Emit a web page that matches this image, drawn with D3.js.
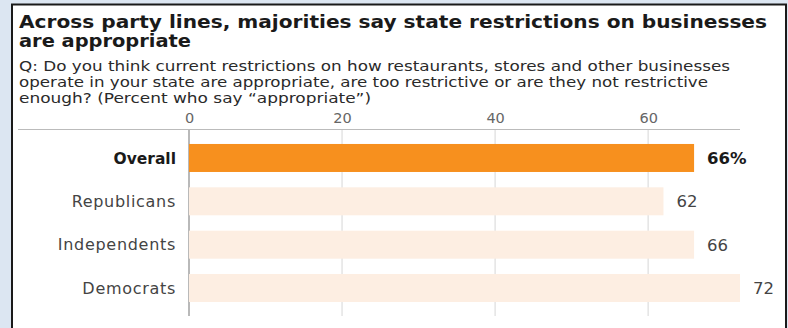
<!DOCTYPE html>
<html>
<head>
<meta charset="utf-8">
<script src="https://cdn.jsdelivr.net/npm/d3@7"></script>
<style>
  html, body { margin: 0; padding: 0; background: #dce6f2; }
  svg { display: block; }
  text { font-family: "DejaVu Sans", sans-serif; }
</style>
</head>
<body>
<svg id="chart" width="788" height="328"></svg>
<script>
const titleLines = ["Across party lines, majorities say state restrictions on businesses", "are appropriate"];
const titleWidths = [748, 172];
const subtitleLines = [
  "Q: Do you think current restrictions on how restaurants, stores and other businesses",
  "operate in your state are appropriate, are too restrictive or are they not restrictive",
  "enough? (Percent who say \u201cappropriate\u201d)"
];
const subtitleWidths = [711, 689, 352];
const categories = ["Overall", "Republicans", "Independents", "Democrats"];
const values = [66, 62, 66, 72];
const valueLabels = ["66%", "62", "66", "72"];
const tickValues = [0, 20, 40, 60];

const svg = d3.select("#chart");

// panel
svg.append("rect").attr("x", 12).attr("y", 4.5).attr("width", 774).attr("height", 340)
  .attr("fill", "#fff").attr("stroke", "#1a1a1a").attr("stroke-width", 2);

// title
svg.append("g").selectAll("text").data(titleLines).join("text")
  .attr("x", 19).attr("y", (d, i) => 27.5 + i * 19)
  .attr("font-size", 18).attr("font-weight", "bold").attr("fill", "#1a1a1a")
  .attr("textLength", (d, i) => titleWidths[i]).attr("lengthAdjust", "spacingAndGlyphs")
  .text(d => d);

svg.append("g").selectAll("text").data(subtitleLines).join("text")
  .attr("x", 19).attr("y", (d, i) => 71 + i * 16)
  .attr("font-size", 13.8).attr("fill", "#2a2a2a")
  .attr("textLength", (d, i) => subtitleWidths[i]).attr("lengthAdjust", "spacingAndGlyphs")
  .text(d => d);

const x = d3.scaleLinear().domain([0, 72]).range([189, 740]);
const y = d3.scaleBand().domain(categories).range([136.3, 309.7]).paddingInner(0.354).paddingOuter(0.177);

// top rule
svg.append("line").attr("x1", 18).attr("x2", 740).attr("y1", 129.5).attr("y2", 129.5)
  .attr("stroke", "#bbb").attr("stroke-width", 1.2);

// gridlines
svg.append("g").selectAll("line").data(tickValues).join("line")
  .attr("x1", d => x(d)).attr("x2", d => x(d))
  .attr("y1", 130).attr("y2", 316)
  .attr("stroke", d => d === 0 ? "#8a8a8a" : "#e4e4e4")
  .attr("stroke-width", d => d === 0 ? 1.2 : 1.5);

// axis labels via d3 axis
const axis = d3.axisTop(x).tickValues(tickValues).tickSize(0).tickPadding(0);
const ag = svg.append("g").attr("transform", "translate(0,123)").call(axis);
ag.select(".domain").remove();
ag.selectAll("text").attr("font-size", 14.5).attr("fill", "#666")
  .attr("font-family", "\"DejaVu Sans\", sans-serif").attr("dy", 0);

// bars
svg.append("g").selectAll("rect").data(categories).join("rect")
  .attr("x", x(0)).attr("y", d => y(d))
  .attr("width", (d, i) => x(values[i]) - x(0))
  .attr("height", y.bandwidth())
  .attr("fill", (d, i) => i === 0 ? "#f7901e" : "#fdeee2");

// category labels
svg.append("g").selectAll("text").data(categories).join("text")
  .attr("x", 176).attr("y", d => y(d) + y.bandwidth() / 2)
  .attr("dy", "0.36em").attr("text-anchor", "end")
  .attr("font-size", (d, i) => i === 0 ? 15.5 : 16)
  .attr("letter-spacing", (d, i) => i === 0 ? 0 : 0.7)
  .attr("font-weight", (d, i) => i === 0 ? "bold" : "normal")
  .attr("fill", (d, i) => i === 0 ? "#1a1a1a" : "#444")
  .text(d => d);

// value labels
svg.append("g").selectAll("text").data(categories).join("text")
  .attr("x", (d, i) => x(values[i]) + 13).attr("y", d => y(d) + y.bandwidth() / 2)
  .attr("dy", "0.36em")
  .attr("font-size", 16.5)
  .attr("font-weight", (d, i) => i === 0 ? "bold" : "normal")
  .attr("fill", (d, i) => i === 0 ? "#1a1a1a" : "#444")
  .text((d, i) => valueLabels[i]);
</script>
</body>
</html>
